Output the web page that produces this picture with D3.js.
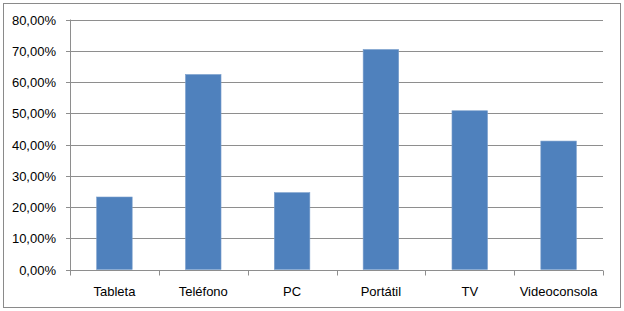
<!DOCTYPE html>
<html>
<head>
<meta charset="utf-8">
<script src="https://cdn.jsdelivr.net/npm/d3@7"></script>
<style>
  body { margin: 0; background: #fff; }
  svg text { font-family: "Liberation Sans", Arial, sans-serif; fill: #000; }
</style>
</head>
<body>
<div id="chart"></div>
<script>
// Dispositivos y porcentaje
const categories = ["Tableta", "Teléfono", "PC", "Portátil", "TV", "Videoconsola"];
const values = [0.232, 0.624, 0.246, 0.704, 0.508, 0.411];
const yTicks = [0, 0.1, 0.2, 0.3, 0.4, 0.5, 0.6, 0.7, 0.8];

const width = 624, height = 311;
const margin = { top: 19.5, right: 21, bottom: 41.5, left: 70 };

const svg = d3.select("#chart").append("svg")
    .attr("width", width)
    .attr("height", height);

// outer frame
svg.append("rect")
    .attr("x", 3.5).attr("y", 3.5)
    .attr("width", 617).attr("height", 304)
    .attr("fill", "#fff")
    .attr("stroke", "#8a8a8a");

const x = d3.scaleBand()
    .domain(categories)
    .range([margin.left, width - margin.right])
    .paddingInner(0.6)
    .paddingOuter(0.3);

const xCat = d3.scaleBand()
    .domain(categories)
    .range([margin.left, width - margin.right]);

const y = d3.scaleLinear()
    .domain([0, 0.8])
    .range([height - margin.bottom, margin.top]);

const fmt = d => d3.format(".2f")(d * 100).replace(".", ",") + "%";

// gridlines
svg.append("g")
    .selectAll("line")
    .data(yTicks)
    .enter()
    .append("line")
    .attr("x1", margin.left - 4)
    .attr("x2", width - margin.right)
    .attr("y1", d => Math.round(y(d)) + 0.5)
    .attr("y2", d => Math.round(y(d)) + 0.5)
    .attr("stroke", "#8e8e8e");

// y labels
svg.append("g")
    .selectAll("text")
    .data(yTicks)
    .enter()
    .append("text")
    .attr("x", margin.left - 14)
    .attr("y", d => Math.round(y(d)) + 0.5)
    .attr("dy", "0.35em")
    .attr("text-anchor", "end")
    .style("font-size", "13px")
    .text(fmt);

// bars
svg.append("g")
    .selectAll("rect")
    .data(values)
    .enter()
    .append("rect")
    .attr("x", (d, i) => x(categories[i]))
    .attr("width", x.bandwidth())
    .attr("y", d => y(d))
    .attr("height", d => y(0) - y(d))
    .attr("fill", "#4f81bd")
    .attr("stroke", "#7b9fcc")
    .attr("stroke-width", 0.6);

// y axis line
svg.append("line")
    .attr("x1", margin.left + 0.5).attr("x2", margin.left + 0.5)
    .attr("y1", y(0.8)).attr("y2", Math.round(y(0)) + 0.5)
    .attr("stroke", "#8e8e8e");

// x axis line and ticks
const xAxisY = Math.round(y(0)) + 0.5;
svg.append("line")
    .attr("x1", margin.left).attr("x2", width - margin.right)
    .attr("y1", xAxisY).attr("y2", xAxisY)
    .attr("stroke", "#8e8e8e");

const boundaries = categories.map(c => xCat(c)).concat([width - margin.right]);
svg.append("g")
    .selectAll("line")
    .data(boundaries)
    .enter()
    .append("line")
    .attr("x1", d => Math.round(d) + 0.5)
    .attr("x2", d => Math.round(d) + 0.5)
    .attr("y1", xAxisY)
    .attr("y2", xAxisY + 5)
    .attr("stroke", "#8e8e8e");

// category labels
svg.append("g")
    .selectAll("text")
    .data(categories)
    .enter()
    .append("text")
    .attr("x", d => xCat(d) + xCat.bandwidth() / 2)
    .attr("y", 296)
    .attr("text-anchor", "middle")
    .style("font-size", "13px")
    .text(d => d);
</script>
</body>
</html>
